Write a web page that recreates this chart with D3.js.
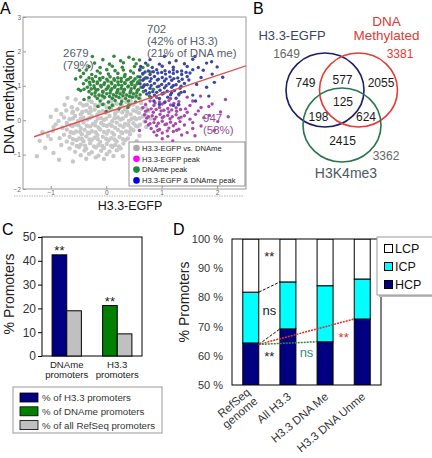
<!DOCTYPE html>
<html><head><meta charset="utf-8">
<script src="https://cdn.jsdelivr.net/npm/d3@7"></script>
<style>body{margin:0;background:#fff}svg{display:block;font-family:"Liberation Sans",Arial,sans-serif}</style>
</head><body>
<svg id="c" width="432" height="458"></svg>
<script>
// ---------------- DATA ----------------
// Panel A: scatter (H3.3-EGFP vs DNA methylation)
const aXTicks = [-1, 0, 1, 2];
const aYTicks = [-2, -1, 0, 1, 2, 3];
const aGray = [
[-0.12,0.72],[0.14,0.68],[0.33,0.74],[0.52,0.66],
[-0.31,0.58],[-0.06,0.63],[0.09,0.56],[0.28,0.61],[0.44,0.57],[0.61,0.63],
[-0.47,0.49],[-0.26,0.53],[-0.11,0.46],[0.04,0.51],[0.19,0.48],[0.36,0.53],[0.49,0.46],[0.63,0.5],
[-0.62,0.38],[-0.41,0.43],[-0.29,0.36],[-0.14,0.41],[0.01,0.37],[0.12,0.43],[0.26,0.38],[0.41,0.42],[0.56,0.36],[0.71,0.4],
[-0.72,0.28],[-0.52,0.32],[-0.36,0.27],[-0.21,0.31],[-0.06,0.26],[0.09,0.32],[0.21,0.27],[0.34,0.31],[0.49,0.28],[0.63,0.33],[0.76,0.27],
[-0.81,0.18],[-0.61,0.22],[-0.46,0.17],[-0.31,0.21],[-0.16,0.16],[-0.01,0.22],[0.16,0.18],[0.29,0.23],[0.44,0.17],[0.59,0.21],[0.71,0.16],
[-0.76,0.08],[-0.56,0.12],[-0.41,0.07],[-0.26,0.11],[-0.09,0.06],[0.06,0.12],[0.21,0.08],[0.36,0.13],[0.51,0.07],[0.66,0.11],
[-0.86,-0.02],[-0.66,0.03],[-0.51,-0.03],[-0.34,0.02],[-0.19,-0.04],[-0.04,0.01],[0.11,-0.03],[0.26,0.02],[0.41,-0.02],[0.54,0.03],[0.69,-0.04],
[-0.91,-0.12],[-0.71,-0.08],[-0.56,-0.13],[-0.41,-0.07],[-0.24,-0.11],[-0.09,-0.08],[0.06,-0.12],[0.19,-0.07],[0.34,-0.11],[0.49,-0.09],[0.61,-0.13],
[-0.79,-0.22],[-0.61,-0.17],[-0.46,-0.23],[-0.29,-0.18],[-0.14,-0.21],[0.01,-0.17],[0.16,-0.22],[0.31,-0.19],[0.44,-0.23],[0.57,-0.18],
[-0.96,-0.31],[-0.71,-0.27],[-0.54,-0.33],[-0.39,-0.28],[-0.26,-0.32],[-0.11,-0.27],[0.04,-0.31],[0.21,-0.28],[0.36,-0.33],[0.49,-0.29],
[-0.76,-0.42],[-0.59,-0.37],[-0.44,-0.41],[-0.31,-0.38],[-0.16,-0.43],[0.01,-0.39],[0.14,-0.42],[0.29,-0.37],[0.43,-0.41],
[-0.84,-0.52],[-0.66,-0.48],[-0.49,-0.53],[-0.36,-0.47],[-0.21,-0.51],[-0.06,-0.48],[0.09,-0.52],[0.24,-0.49],[0.39,-0.53],
[-0.71,-0.62],[-0.54,-0.58],[-0.41,-0.61],[-0.26,-0.57],[-0.11,-0.63],[0.04,-0.59],[0.19,-0.62],[0.34,-0.58],
[-0.81,-0.72],[-0.61,-0.68],[-0.46,-0.71],[-0.29,-0.67],[-0.14,-0.73],[0.01,-0.69],[0.16,-0.72],[0.31,-0.68],
[-0.66,-0.82],[-0.49,-0.78],[-0.36,-0.83],[-0.19,-0.79],[-0.04,-0.81],[0.11,-0.78],[0.26,-0.82],
[-0.56,-0.92],[-0.39,-0.88],[-0.26,-0.93],[-0.09,-0.89],[0.06,-0.91],[0.19,-0.87],
[-0.46,-1.02],[-0.31,-0.98],[-0.14,-1.03],[0.01,-0.99],[0.13,-1.04],
[-0.36,-1.12],[-0.19,-1.08],[-0.04,-1.13],
[-0.35,0.45],[-0.2,0.44],[-0.04,0.46],[0.12,0.45],[0.28,0.44],[0.45,0.46],
[-0.6,0.25],[-0.43,0.24],[-0.28,0.26],[-0.13,0.24],[0.03,0.25],[0.18,0.26],[0.38,0.24],[0.55,0.25],
[-0.6,0.05],[-0.46,0.04],[-0.3,0.06],[-0.15,0.05],[0.0,0.04],[0.15,0.06],[0.3,0.05],[0.46,0.04],[0.6,0.06],
[-0.64,-0.15],[-0.5,-0.14],[-0.35,-0.16],[-0.2,-0.15],[-0.05,-0.14],[0.1,-0.16],[0.25,-0.15],[0.4,-0.14],[0.53,-0.16],
[-0.64,-0.35],[-0.47,-0.34],[-0.33,-0.36],[-0.19,-0.35],[-0.04,-0.34],[0.11,-0.36],[0.27,-0.35],[0.42,-0.34],
[-0.6,-0.55],[-0.44,-0.54],[-0.3,-0.56],[-0.15,-0.55],[0.0,-0.54],[0.15,-0.56],[0.3,-0.55],
[-0.53,-0.75],[-0.38,-0.74],[-0.22,-0.76],[-0.07,-0.75],[0.09,-0.74],[0.23,-0.76],
[-1.25,-1.05],[-1.1,-0.8],[-1.0,-0.55],[-1.15,-0.35],[-0.95,-0.95],[-0.85,-1.15],[-1.2,-0.6],[-0.6,-1.2],[0.3,-1.05],[0.5,-0.75],
[0.6,-0.45],[0.72,-0.2],[0.8,0.05],[-0.55,0.6],[-0.75,0.45],[-1.0,0.1],[-0.95,-0.2],[-0.7,0.65],[0.25,0.85],[-1.05,-0.45],[-0.9,0.3],[0.55,-0.6]
];
const aPeakH33 = [
[1.01,0.76],[1.31,0.73],[0.91,0.66],[1.16,0.63],[1.46,0.67],
[0.79,0.56],[0.96,0.53],[1.13,0.57],[1.31,0.54],[1.56,0.56],
[0.71,0.46],[0.86,0.43],[1.01,0.47],[1.16,0.44],[1.31,0.46],[1.51,0.43],[1.91,0.47],
[0.66,0.36],[0.81,0.33],[0.96,0.37],[1.11,0.34],[1.26,0.36],[1.43,0.33],[1.71,0.37],
[0.71,0.26],[0.85,0.23],[0.99,0.27],[1.13,0.24],[1.27,0.26],[1.46,0.23],[1.66,0.27],[2.06,0.24],
[0.69,0.16],[0.83,0.13],[0.97,0.17],[1.11,0.14],[1.26,0.16],[1.41,0.13],[1.61,0.17],[1.86,0.14],
[0.73,0.06],[0.87,0.03],[1.01,0.07],[1.15,0.04],[1.31,0.06],[1.51,0.03],[1.76,0.07],
[0.71,-0.04],[0.86,-0.07],[1.01,-0.03],[1.16,-0.06],[1.33,-0.04],[1.56,-0.07],[2.01,-0.04],
[0.76,-0.14],[0.91,-0.17],[1.06,-0.13],[1.21,-0.16],[1.41,-0.14],[1.71,-0.17],
[0.81,-0.24],[0.96,-0.27],[1.13,-0.23],[1.31,-0.26],[1.56,-0.24],
[0.86,-0.34],[1.01,-0.37],[1.21,-0.33],[1.46,-0.36],
[0.91,-0.44],[1.11,-0.47],[1.36,-0.43],[1.01,-0.54],
[0.75,0.3],[0.9,0.31],[1.04,0.29],[1.18,0.3],[1.34,0.31],
[0.76,0.1],[0.9,0.09],[1.04,0.11],[1.19,0.1],[1.35,0.09],
[0.79,-0.1],[0.94,-0.09],[1.09,-0.11],[1.25,-0.1],
[0.88,0.5],[1.05,0.51],[1.22,0.49],[0.93,-0.3],[1.1,-0.31],[1.27,-0.29],
[2.15,0.6],[1.95,-0.3],[1.7,0.7],[2.2,0.1],[0.6,-0.3],[1.6,-0.45],[1.85,0.4],[1.2,-0.6]
];
const aPeakDNAme = [
[0.14,1.86],[0.41,1.83],[-0.06,1.76],[0.26,1.73],[0.49,1.77],
[-0.21,1.66],[0.06,1.63],[0.31,1.67],[0.54,1.64],
[-0.31,1.56],[-0.11,1.53],[0.11,1.57],[0.29,1.54],[0.51,1.56],[0.66,1.53],
[-0.36,1.46],[-0.16,1.43],[0.01,1.47],[0.16,1.44],[0.31,1.46],[0.44,1.43],[0.61,1.47],
[-0.41,1.36],[-0.26,1.33],[-0.11,1.37],[0.04,1.34],[0.21,1.36],[0.34,1.33],[0.49,1.37],[0.66,1.34],
[-0.46,1.26],[-0.31,1.23],[-0.19,1.27],[-0.06,1.24],[0.07,1.26],[0.21,1.23],[0.33,1.27],[0.44,1.24],[0.57,1.26],[0.71,1.23],
[-0.36,1.16],[-0.23,1.13],[-0.11,1.17],[0.03,1.14],[0.15,1.16],[0.27,1.13],[0.37,1.17],[0.49,1.14],[0.61,1.16],
[-0.41,1.06],[-0.29,1.03],[-0.16,1.07],[-0.04,1.04],[0.1,1.06],[0.22,1.03],[0.34,1.07],[0.46,1.04],[0.56,1.06],[0.69,1.03],
[-0.34,0.96],[-0.21,0.93],[-0.09,0.97],[0.03,0.94],[0.15,0.96],[0.27,0.93],[0.39,0.97],[0.51,0.94],[0.63,0.96],
[-0.46,0.86],[-0.31,0.83],[-0.18,0.87],[-0.06,0.84],[0.08,0.86],[0.2,0.83],[0.32,0.87],[0.44,0.84],[0.56,0.86],[0.67,0.83],
[-0.26,0.76],[-0.13,0.73],[0.01,0.77],[0.13,0.74],[0.25,0.76],[0.37,0.73],[0.49,0.77],[0.61,0.74],
[-0.31,0.66],[-0.16,0.63],[-0.03,0.67],[0.11,0.64],[0.23,0.66],[0.35,0.63],[0.47,0.67],[0.59,0.64],
[-0.11,0.56],[0.04,0.53],[0.16,0.57],[0.28,0.54],[0.4,0.56],[0.53,0.53],
[-0.06,0.46],[0.11,0.43],[0.26,0.47],[0.41,0.44],[0.06,0.36],[0.23,0.33],[0.39,0.37],
[-0.25,1.2],[-0.12,1.21],[0.01,1.19],[0.14,1.2],[0.27,1.21],[0.4,1.19],[0.52,1.2],
[-0.3,1.1],[-0.16,1.11],[-0.03,1.09],[0.09,1.1],[0.21,1.11],[0.33,1.09],[0.45,1.1],[0.57,1.11],
[-0.22,1.0],[-0.1,1.01],[0.04,0.99],[0.16,1.0],[0.28,1.01],[0.4,0.99],[0.52,1.0],
[-0.4,0.9],[-0.27,0.91],[-0.15,0.89],[0.0,0.9],[0.1,0.91],[0.21,0.89],[0.33,0.9],[0.45,0.91],[0.58,0.89],
[-0.2,0.8],[-0.06,0.81],[0.07,0.79],[0.19,0.8],[0.31,0.81],[0.43,0.79],[0.55,0.8],
[-0.2,0.7],[-0.07,0.71],[0.06,0.69],[0.18,0.7],[0.3,0.71],[0.42,0.69],[0.54,0.7],
[-0.5,0.9],[-0.55,1.2],[-0.25,1.85],[0.75,1.6],[0.8,1.4],[0.85,0.9],[-0.4,0.6],[0.0,0.25],[0.6,1.75],[-0.15,0.4],[-0.48,1.45],[0.78,0.7]
];
const aPeakBoth = [
[1.05,1.86],[0.79,1.76],[1.26,1.73],[1.56,1.77],
[0.71,1.66],[0.96,1.63],[1.14,1.67],[1.41,1.64],[1.81,1.66],
[0.62,1.56],[0.83,1.53],[1.01,1.57],[1.21,1.54],[1.46,1.56],[1.66,1.53],
[0.6,1.46],[0.76,1.43],[0.91,1.47],[1.06,1.44],[1.21,1.46],[1.36,1.43],[1.56,1.47],
[0.66,1.36],[0.79,1.33],[0.93,1.37],[1.07,1.34],[1.21,1.36],[1.36,1.33],[1.51,1.37],[1.91,1.34],
[0.61,1.26],[0.74,1.23],[0.87,1.27],[1.01,1.24],[1.15,1.26],[1.29,1.23],[1.46,1.27],[1.71,1.24],
[0.66,1.16],[0.79,1.13],[0.92,1.17],[1.05,1.14],[1.18,1.16],[1.31,1.13],[1.49,1.17],
[0.61,1.06],[0.74,1.03],[0.87,1.07],[1.0,1.04],[1.13,1.06],[1.26,1.03],[1.41,1.07],[1.63,1.04],
[0.66,0.96],[0.79,0.93],[0.92,0.97],[1.05,0.94],[1.18,0.96],[1.33,0.93],[1.81,0.96],
[0.71,0.86],[0.84,0.83],[0.97,0.87],[1.1,0.84],[1.23,0.86],[1.41,0.83],
[0.73,0.76],[0.87,0.73],[1.01,0.77],[1.16,0.74],[1.31,0.76],[1.56,0.73],
[0.81,0.66],[0.96,0.63],[1.11,0.67],[1.26,0.64],[0.86,0.56],[1.06,0.53],[1.61,0.56],[0.96,0.46],[1.21,0.43],
[0.7,1.4],[0.85,1.41],[1.0,1.39],[1.14,1.4],[1.28,1.41],[1.44,1.39],
[0.68,1.2],[0.81,1.21],[0.94,1.19],[1.08,1.2],[1.22,1.21],[1.37,1.19],
[0.68,1.0],[0.81,1.01],[0.95,0.99],[1.08,1.0],[1.21,1.01],[1.35,0.99],
[0.78,0.8],[0.91,0.81],[1.04,0.79],[1.18,0.8],[1.35,0.81],
[1.75,1.45],[1.95,1.1],[1.85,0.7],[1.3,0.45],[2.0,1.55],[1.6,1.85],[1.9,1.7],[2.1,1.25]
];
const aFit = [[-1.3,-0.48],[2.52,1.58]];
const aLegend = ["H3.3-EGFP vs. DNAme","H3.3-EGFP peak","DNAme peak","H3.3-EGFP & DNAme peak"];
const aCounts = [["2679","(79%)"],["702","(42% of H3.3)","(21% of DNA me)"],["947","(58%)"]];

// Panel B: Venn
const bSets = ["H3.3-EGFP","DNA Methylated","H3K4me3"];
const bTotals = [1649, 3381, 3362];
const bRegions = {h33:749, h33_me:577, me:2055, all:125, h33_k4:198, me_k4:624, k4:2415};

// Panel C
const cGroups = ["DNAme promoters","H3.3 promoters"];
const cSpecific = [42.5, 21.2];
const cAllRef = [19.0, 9.3];
const cSig = ["**","**"];
const cTicks = [0,10,20,30,40,50];
const cLegend = ["% of H3.3 promoters","% of DNAme promoters","% of all RefSeq promoters"];

// Panel D
const dCats = ["RefSeq genome","All H3.3","H3.3 DNA Me","H3.3 DNA Unme"];
const dHCP = [64.4, 69.2, 64.8, 72.6];
const dICP = [17.4, 16.1, 19.2, 13.7];
const dLCP = [18.2, 14.7, 16.0, 13.7];
const dTicks = [50,60,70,80,90,100];
const dLegend = ["LCP","ICP","HCP"];

// ---------------- DRAW ----------------
const svg = d3.select("#c");
svg.append("rect").attr("width",432).attr("height",458).attr("fill","#fff");
const defs = svg.append("defs");
const FONT = '"Liberation Sans",Arial,sans-serif';
function txt(g,x,y,s,size,fill,anchor){
  return g.append("text").attr("x",x).attr("y",y).text(s).attr("font-size",size).attr("fill",fill||"#000").attr("text-anchor",anchor||"start");
}

// ===== Panel A =====
const xA = d3.scaleLinear().domain([-1.5,2.52]).range([23,246]);
const yA = d3.scaleLinear().domain([-2,3]).range([189,17]);
const gA = svg.append("g");
txt(gA,0,14,"A",16,"#000");
defs.append("clipPath").attr("id","clipA").append("rect").attr("x",23).attr("y",17).attr("width",223).attr("height",172);
gA.append("rect").attr("x",23).attr("y",17).attr("width",223).attr("height",172).attr("fill","#fff").attr("stroke","#9a9a9a").attr("stroke-width",1);
const pts = gA.append("g").attr("clip-path","url(#clipA)");
function cloud(data,color,r){
  pts.append("g").selectAll("circle").data(data).join("circle")
    .attr("cx",d=>xA(d[0])).attr("cy",d=>yA(d[1])).attr("r",r).attr("fill",color);
}
cloud(aGray,"#c8c8c8",2.2);
cloud(aPeakH33,"#a84aac",1.7);
cloud(aPeakDNAme,"#34893f",1.8);
cloud(aPeakBoth,"#3a46a2",1.7);
pts.append("line").attr("x1",xA(aFit[0][0])).attr("y1",yA(aFit[0][1])).attr("x2",xA(aFit[1][0])).attr("y2",yA(aFit[1][1]))
  .attr("stroke","#e0524f").attr("stroke-width",1.4);
const fmt = d3.format("d");
const axAy = gA.append("g").attr("transform","translate(23,0)").call(d3.axisLeft(yA).tickValues(aYTicks).tickFormat(fmt).tickSize(-3).tickPadding(2));
const axAx = gA.append("g").attr("transform","translate(0,189)").call(d3.axisBottom(xA).tickValues(aXTicks).tickFormat(fmt).tickSize(-3).tickPadding(1));
[axAy,axAx].forEach(a=>{a.select(".domain").remove();a.selectAll("line").attr("stroke","#999");a.selectAll("text").attr("font-size",6.5).attr("fill","#666").attr("font-family",FONT);});
gA.append("line").attr("x1",14).attr("x2",244).attr("y1",196).attr("y2",196).attr("stroke","#cfcfcf").attr("stroke-width",1.5).attr("stroke-dasharray","1.5,1");
txt(gA,130,210,"H3.3-EGFP",12.5,"#111","middle");
txt(gA,0,0,"DNA methylation",14,"#111","middle").attr("transform","translate(14,102) rotate(-90)");
const cntCol = "#56606e";
[[63,57],[147,33],[203,122]].forEach((p,i)=>{
  aCounts[i].forEach((s,j)=>txt(gA,p[0],p[1]+j*12,s,11.5,i==2?"#9a4a9a":cntCol));
});
const lgA = gA.append("g");
lgA.append("rect").attr("x",129).attr("y",142).attr("width",116).attr("height",44).attr("fill","#fff").attr("stroke","#777").attr("stroke-width",0.8);
const aLegCol = ["#aaaaaa","#ff00ff","#1a8a3a","#0000ee"];
aLegend.forEach((s,i)=>{
  const y = 148 + i*10.8;
  lgA.append("circle").attr("cx",136.5).attr("cy",y).attr("r",3.3).attr("fill",aLegCol[i]);
  txt(lgA,142,y+2.7,s,7.6,"#222");
});

// ===== Panel B =====
const gB = svg.append("g");
txt(gB,253,14,"B",16,"#000");
const vennShapes = [
  {cx:325,cy:90,col:"#1c1c6c"},
  {cx:358.5,cy:90,col:"#e43c36"},
  {cx:342,cy:125,col:"#2a7550"}
];
gB.selectAll("ellipse").data(vennShapes).join("ellipse")
  .attr("cx",d=>d.cx).attr("cy",d=>d.cy).attr("rx",39).attr("ry",37)
  .attr("fill","none").attr("stroke",d=>d.col).attr("stroke-width",1.6);
txt(gB,292,39.5,bSets[0],13,"#3c4466","middle");
txt(gB,386.5,25.5,"DNA",13.5,"#e03a34","middle");
txt(gB,386.5,39.5,"Methylated",13.5,"#e03a34","middle");
txt(gB,346,178,bSets[2],14,"#4c5a5c","middle");
txt(gB,286.5,58,String(bTotals[0]),12,"#666","middle");
txt(gB,400,58,String(bTotals[1]),12,"#e03a34","middle");
txt(gB,386,160,String(bTotals[2]),12,"#666","middle");
const regPos = {h33:[305.5,87],h33_me:[342.5,84],me:[381,87],all:[343,106],h33_k4:[318.5,121],me_k4:[366,121],k4:[342.5,145]};
Object.keys(bRegions).forEach(k=>txt(gB,regPos[k][0],regPos[k][1],String(bRegions[k]),12,"#1a1a1a","middle"));

// ===== Panel C =====
const gC = svg.append("g");
txt(gC,2,235,"C",16,"#000");
const xC = d3.scaleBand().domain(cGroups).range([42,142]).paddingInner(0.42).paddingOuter(0.2);
const xCi = d3.scaleBand().domain(["s","a"]).range([0,xC.bandwidth()]);
const yC = d3.scaleLinear().domain([0,50]).range([356,237]);
gC.append("rect").attr("x",42).attr("y",237).attr("width",100).attr("height",119).attr("fill","#fff").attr("stroke","#000");
const cCols = ["#000080","#008000"];
cGroups.forEach((g,i)=>{
  const x0 = xC(g);
  gC.append("rect").attr("x",x0+xCi("s")).attr("y",yC(cSpecific[i])).attr("width",xCi.bandwidth()).attr("height",yC(0)-yC(cSpecific[i])).attr("fill",cCols[i]).attr("stroke","#000").attr("stroke-width",1);
  gC.append("rect").attr("x",x0+xCi("a")).attr("y",yC(cAllRef[i])).attr("width",xCi.bandwidth()).attr("height",yC(0)-yC(cAllRef[i])).attr("fill","#c0c0c0").attr("stroke","#000").attr("stroke-width",1);
  txt(gC,x0+xCi("s")+xCi.bandwidth()/2,yC(cSpecific[i])+0.5,cSig[i],13,"#222","middle");
  const parts = g.split(" ");
  txt(gC,x0+xC.bandwidth()/2,368,parts[0],9.6,"#222","middle");
  txt(gC,x0+xC.bandwidth()/2,377.5,parts[1],9.6,"#222","middle");
});
const axC = gC.append("g").attr("transform","translate(42,0)").call(d3.axisLeft(yC).tickValues(cTicks).tickSize(4).tickPadding(2));
axC.select(".domain").remove();
axC.selectAll("text").attr("font-size",12).attr("fill","#333").attr("font-family",FONT);
txt(gC,0,0,"% Promoters",14,"#222","middle").attr("transform","translate(14,294) rotate(-90)");
const lgC = gC.append("g");
lgC.append("rect").attr("x",13).attr("y",387).attr("width",149).attr("height",46).attr("fill","#fff").attr("stroke","#999");
const cLegCol = ["#000080","#008000","#c0c0c0"];
cLegend.forEach((s,i)=>{
  const y = 397.5 + i*13.8;
  lgC.append("rect").attr("x",20).attr("y",y-4.5).attr("width",18).attr("height",9).attr("fill",cLegCol[i]).attr("stroke","#000").attr("stroke-width",0.8);
  txt(lgC,42,y+3.4,s,9.7,"#333");
});

// ===== Panel D =====
const gD = svg.append("g");
txt(gD,173,235,"D",16,"#000");
const xD = d3.scaleBand().domain(dCats).range([232,381]).paddingInner(0.57).paddingOuter(0.29);
const yD = d3.scaleLinear().domain([50,100]).range([385,239]);
defs.append("clipPath").attr("id","clipD").append("rect").attr("x",232).attr("y",239).attr("width",149).attr("height",146);
gD.append("rect").attr("x",232).attr("y",239).attr("width",149).attr("height",146).attr("fill","#fff");
const dRows = dCats.map((c,i)=>({cat:c,HCP:dHCP[i],ICP:dICP[i],LCP:dLCP[i]}));
const stack = d3.stack().keys(["HCP","ICP","LCP"])(dRows);
const dCol = {HCP:"#000080",ICP:"#00ffff",LCP:"#ffffff"};
const bars = gD.append("g").attr("clip-path","url(#clipD)");
stack.forEach(layer=>{
  bars.append("g").selectAll("rect").data(layer).join("rect")
    .attr("x",d=>xD(d.data.cat)).attr("width",xD.bandwidth())
    .attr("y",d=>yD(d[1])).attr("height",d=>yD(d[0])-yD(d[1]))
    .attr("fill",dCol[layer.key]).attr("stroke","#000").attr("stroke-width",1);
});
gD.append("rect").attr("x",232).attr("y",239).attr("width",149).attr("height",146).attr("fill","none").attr("stroke","#000");
const axD = gD.append("g").attr("transform","translate(232,0)").call(d3.axisLeft(yD).tickValues(dTicks).tickSize(0).tickPadding(9).tickFormat(d=>d+" %"));
axD.select(".domain").remove();
axD.selectAll("text").attr("font-size",11).attr("fill","#333").attr("font-family",FONT);
txt(gD,0,0,"% Promoters",14,"#222","middle").attr("transform","translate(189,302) rotate(-90)");
const bw = xD.bandwidth();
const r0 = xD(dCats[0])+bw;
function conn(x2cat,v1,v2,col,dash,w){
  gD.append("line").attr("x1",r0).attr("y1",yD(v1)).attr("x2",xD(x2cat)).attr("y2",yD(v2))
    .attr("stroke",col).attr("stroke-width",w).attr("stroke-dasharray",dash);
}
conn(dCats[1],dHCP[0]+dICP[0],dHCP[1]+dICP[1],"#111","3,1.5",1);
conn(dCats[1],dHCP[0]-0.5,dHCP[1],"#111","3,1.5",1);
conn(dCats[2],dHCP[0]-0.5,dHCP[2],"#2e8b3c","2,1",1.5);
conn(dCats[3],dHCP[0]-0.5,dHCP[3],"#e0302a","2,1",1.5);
function mid(i){return (xD(dCats[i])+bw+xD(dCats[i+1]))/2;}
const dAnn = [
  {t:"**",gap:0,v:92.5,c:"#222"},{t:"ns",gap:0,v:74,c:"#222"},{t:"**",gap:0,v:58.2,c:"#222"},
  {t:"ns",gap:1,v:59.6,c:"#3a8a8a"},{t:"**",gap:2,v:64.7,c:"#e0302a"}
];
dAnn.forEach(a=>txt(gD,mid(a.gap),yD(a.v),a.t,13,a.c,"middle"));
const dLines = [["RefSeq","genome"],["All H3.3"],["H3.3 DNA Me"],["H3.3 DNA Unme"]];
dCats.forEach((c,i)=>{
  const cx = xD(c)+bw/2+4;
  const t = gD.append("text").attr("transform",`translate(${cx},398) rotate(-40)`).attr("text-anchor","end").attr("font-size",11.5).attr("fill","#333");
  const L = dLines[i];
  L.forEach((s,j)=>t.append("tspan").attr("x",0).attr("y",(j-(L.length-1)/2)*11.5).text(s));
});
const lgD = gD.append("g");
lgD.append("rect").attr("x",379).attr("y",239).attr("width",56).attr("height",58).attr("fill","#bbb");
lgD.append("rect").attr("x",377).attr("y",237).attr("width",56).attr("height",58).attr("fill","#fff").attr("stroke","#999");
dLegend.forEach((s,i)=>{
  const y = 248.5 + i*18;
  lgD.append("rect").attr("x",384.5).attr("y",y-4).attr("width",8).attr("height",8).attr("fill",dCol[s]).attr("stroke","#000").attr("stroke-width",1);
  txt(lgD,395,y+4.5,s,12.5,"#111");
});
</script></body></html>
